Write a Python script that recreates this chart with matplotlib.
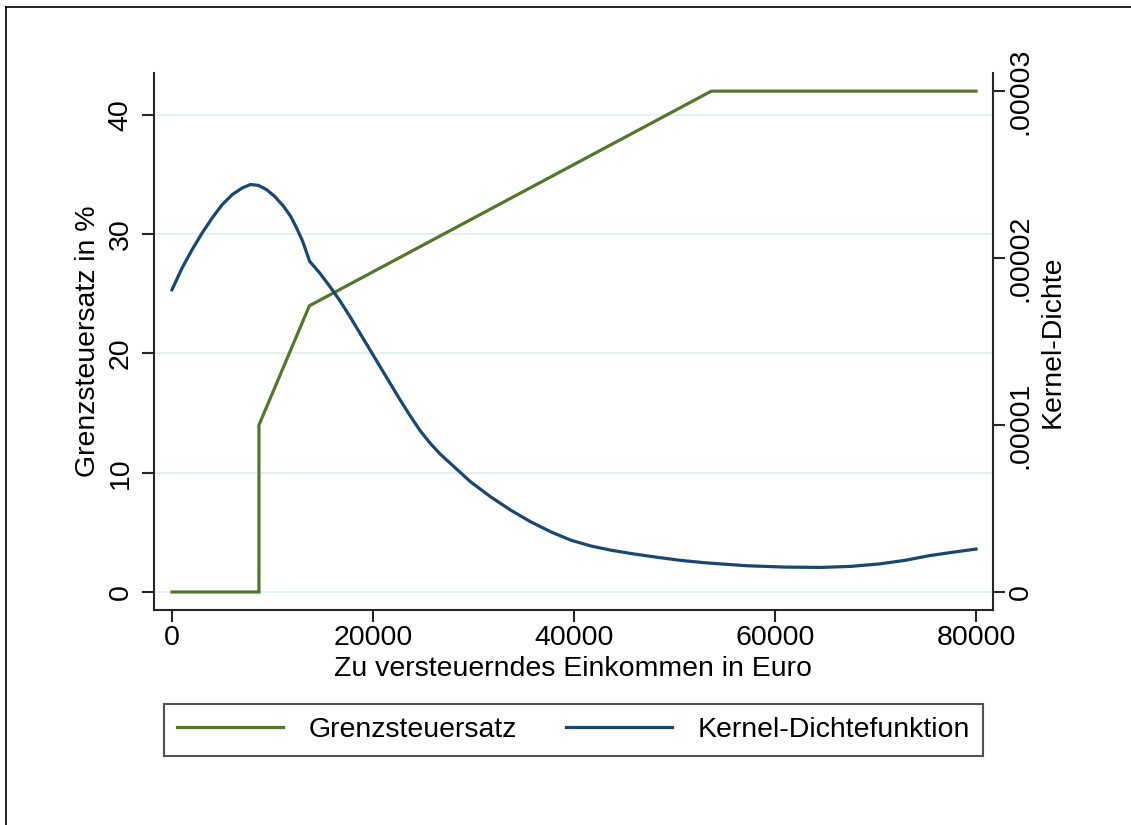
import numpy as np
import matplotlib.pyplot as plt
from matplotlib.lines import Line2D

# Grenzsteuersatz in % ueber dem zu versteuernden Einkommen
einkommen = [0, 8652, 8652, 13669, 53665, 80000]
steuersatz = [0, 0, 14, 24, 42, 42]

# Kernel-Dichte (Einheit 1e-5)
kd_x = [0, 1000, 2000, 3000, 4000, 5000, 6000, 7000, 7800, 8600, 9400,
        10200, 11100, 11800, 12400, 13000, 13700, 14700, 15700, 16700,
        17700, 18700, 19700, 20700, 21700, 22700, 23700, 24700, 25700,
        26700, 27700, 28700, 29700, 31700, 33700, 35700, 37700, 39700,
        41700, 43700, 45700, 48000, 50500, 53000, 57200, 61000, 64500,
        67500, 70400, 73000, 75400, 77700, 80000]
kd_y = [1.81, 1.94, 2.05, 2.15, 2.24, 2.32, 2.38, 2.42, 2.44, 2.435, 2.41,
        2.37, 2.31, 2.25, 2.18, 2.10, 1.98, 1.91, 1.83, 1.745,
        1.65, 1.55, 1.45, 1.35, 1.25, 1.15, 1.055, 0.965, 0.89,
        0.825, 0.77, 0.715, 0.66, 0.57, 0.49, 0.42, 0.36, 0.31,
        0.275, 0.25, 0.23, 0.21, 0.19, 0.175, 0.157, 0.149, 0.147,
        0.153, 0.168, 0.19, 0.218, 0.238, 0.257]

x_ticks = [0, 20000, 40000, 60000, 80000]
y_ticks = [0, 10, 20, 30, 40]
y2_ticks = [0, 0.00001, 0.00002, 0.00003]
y2_labels = ['0', '.00001', '.00002', '.00003']

gruen = '#55752f'
navy = '#1a476f'
achse = '#262626'

plt.rcParams['font.family'] = ['Liberation Sans', 'DejaVu Sans']
plt.rcParams['font.size'] = 20.5

fig = plt.figure(figsize=(11.31, 8.25), dpi=100)
ax = fig.add_axes([154 / 1131, 1 - 610 / 825, 839 / 1131, 537 / 825])
ax2 = ax.twinx()

ax.plot(einkommen, steuersatz, color=gruen, lw=2.3, label='Grenzsteuersatz',
        solid_joinstyle='miter')
ax2.plot(kd_x, np.array(kd_y) * 1e-5, color=navy, lw=2.3,
         label='Kernel-Dichtefunktion', solid_joinstyle='round')

ax.set_xlim(-1791, 81692)
ax.set_ylim(-1.509, 43.52)
ax2.set_ylim(-0.108e-5, 3.108e-5)

ax.set_xticks(x_ticks)
ax.set_xticklabels([str(v) for v in x_ticks])
ax.set_yticks(y_ticks)
ax.set_yticklabels([str(v) for v in y_ticks], rotation=90, va='center')
ax2.set_yticks(y2_ticks)
ax2.set_yticklabels(y2_labels, rotation=90, va='center')

ax.grid(axis='y', color='#e6eff1', lw=1.5)
ax.grid(axis='x', visible=False)
ax.set_axisbelow(True)

for s in ['top', 'right']:
    ax.spines[s].set_visible(False)
for s in ['top', 'left', 'bottom']:
    ax2.spines[s].set_visible(False)
for a in (ax, ax2):
    for s in a.spines.values():
        s.set_color(achse)
        s.set_linewidth(1.5)
    a.tick_params(length=8.6, width=1.5, color=achse)
ax.tick_params(axis='x', pad=2)
ax.tick_params(axis='y', pad=6)
ax2.tick_params(axis='y', pad=2)

ax.set_xlabel('Zu versteuerndes Einkommen in Euro')
ax.set_ylabel('Grenzsteuersatz in %')
ax2.set_ylabel('Kernel-Dichte')
ax.xaxis.set_label_coords(0.5, -0.110)
ax.xaxis.label.set_va('center')
ax.yaxis.set_label_coords(-0.0787, 0.5)
ax.yaxis.label.set_va('center')
ax2.yaxis.set_label_coords(1.0715, 0.5)
ax2.yaxis.label.set_va('center')
ax2.yaxis.label.set_rotation(90)

h1, l1 = ax.get_legend_handles_labels()
h2, l2 = ax2.get_legend_handles_labels()
leg = fig.legend(h1 + h2, l1 + l2, loc='center', ncol=2,
                 bbox_to_anchor=(573.5 / 1131, 1 - 730 / 825),
                 frameon=True, fancybox=False, edgecolor=achse,
                 handlelength=3.72, handletextpad=0.88, columnspacing=1.75,
                 borderpad=0.45)
leg.get_frame().set_linewidth(1.5)

# Rahmen oben und links
fig.add_artist(Line2D([6 / 1131, 1], [1 - 7 / 825, 1 - 7 / 825], color='black', lw=1.2))
fig.add_artist(Line2D([6 / 1131, 6 / 1131], [0, 1 - 7 / 825], color='black', lw=1.2))

fig.savefig('out.png', dpi=100)
